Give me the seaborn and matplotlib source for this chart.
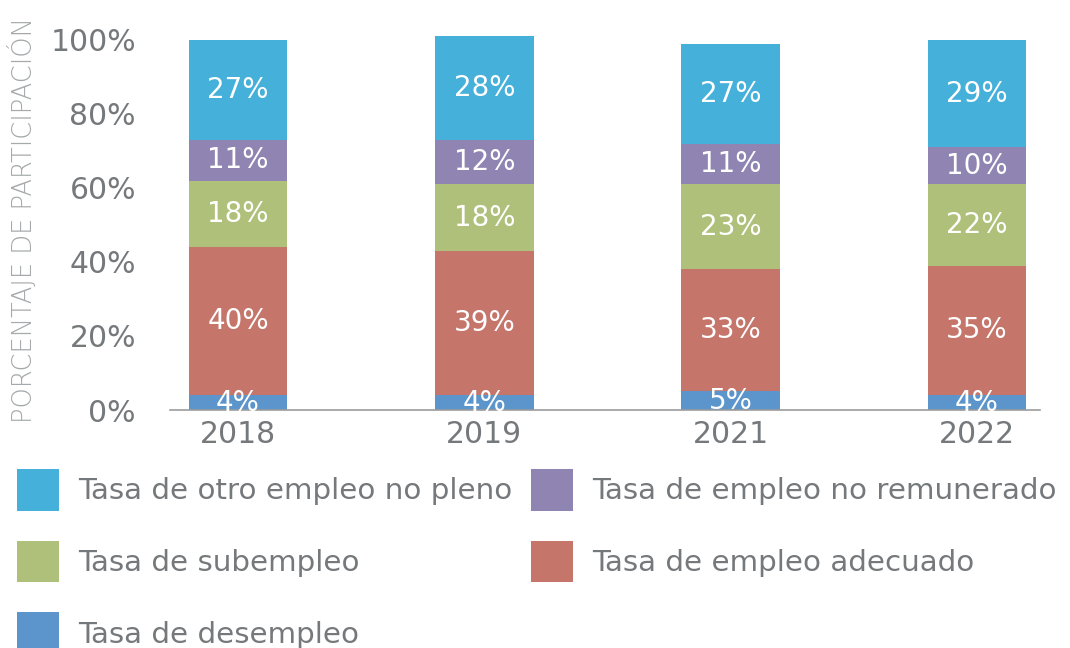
import matplotlib
matplotlib.use("Agg")
import matplotlib.pyplot as plt
from matplotlib.patches import Patch
import numpy as np
import seaborn as sns

# Employment structure by year (percent of participation)
years = ["2018", "2019", "2021", "2022"]
desempleo = [4, 4, 5, 4]
empleo_adecuado = [40, 39, 33, 35]
subempleo = [18, 18, 23, 22]
empleo_no_remunerado = [11, 12, 11, 10]
otro_empleo_no_pleno = [27, 28, 27, 29]

series_names = [
    "Tasa de desempleo",
    "Tasa de empleo adecuado",
    "Tasa de subempleo",
    "Tasa de empleo no remunerado",
    "Tasa de otro empleo no pleno",
]
series_values = [desempleo, empleo_adecuado, subempleo, empleo_no_remunerado, otro_empleo_no_pleno]
series_colors = ["#5b95cc", "#c5756a", "#afc07a", "#9085b2", "#45b0d9"]

yticks = [0, 20, 40, 60, 80, 100]

sns.set_style("white")
plt.rcParams["font.family"] = ["DejaVu Sans"]

text_gray = "#75797b"

fig = plt.figure(figsize=(10.7, 6.48), dpi=100)
ax = fig.add_axes([170 / 1070, 1 - 410 / 648, (1040 - 170) / 1070, (410 - 14) / 648])

vals = np.array(series_values, dtype=float)
cum = np.cumsum(vals, axis=0)
bottoms = cum - vals

# Stacked bars: draw cumulative totals from the top layer downward
for i in range(len(series_names) - 1, -1, -1):
    sns.barplot(x=years, y=cum[i], color=series_colors[i], saturation=1,
                width=0.40, linewidth=0, ax=ax)

# Segment value labels
for i in range(len(series_names)):
    for j in range(len(years)):
        ax.text(j, bottoms[i, j] + vals[i, j] / 2, f"{int(vals[i, j])}%",
                ha="center", va="center", color="white", fontsize=20)

ax.set_xlim(-0.276, 3.256)
ax.set_ylim(0, 107)
ax.set_yticks(yticks)
ax.set_yticklabels([f"{t}%" for t in yticks])
ax.tick_params(axis="both", length=0, labelsize=21.5, colors=text_gray)
ax.tick_params(axis="y", pad=24.5)
ax.tick_params(axis="x", pad=7)

for side in ["top", "right", "left"]:
    ax.spines[side].set_visible(False)
ax.spines["bottom"].set_color("#9a9c9e")
ax.spines["bottom"].set_linewidth(1.2)

ax.set_xlabel("")
ax.set_ylabel("PORCENTAJE DE PARTICIPACIÓN", fontsize=18.5, color="#a6a9ab",
              fontweight="light", va="center", ha="center")
ax.yaxis.set_label_coords((22 - 170) / 870, (410 - 220) / 396)

# Legend below the plot, filled column by column
order = [4, 2, 0, 3, 1]
handles = [Patch(facecolor=series_colors[k], edgecolor="none") for k in order]
labels = [series_names[k] for k in order]
fig.legend(handles, labels, loc="upper left", bbox_to_anchor=(14 / 1070, 1 - 466 / 648),
           ncol=2, frameon=False, fontsize=21.2, labelcolor=text_gray,
           handlelength=1.42, handleheight=1.8, handletextpad=0.66,
           labelspacing=1.02, columnspacing=0.62, borderaxespad=0, borderpad=0.1)

fig.savefig("out.png", dpi=100)
